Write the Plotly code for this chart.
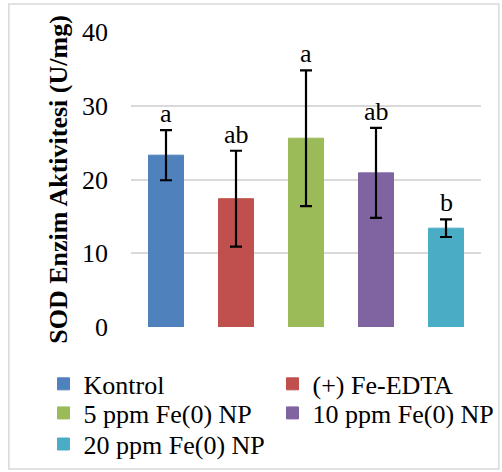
import plotly.graph_objects as go

categories = ["Kontrol", "(+) Fe-EDTA", "5 ppm Fe(0) NP", "10 ppm Fe(0) NP", "20 ppm Fe(0) NP"]
means = [23.3, 17.4, 25.6, 20.9, 13.4]
sds = [3.4, 6.5, 9.2, 6.1, 1.2]
letters = ["a", "ab", "a", "ab", "b"]
colors = ["#4F81BD", "#C0504D", "#9BBB59", "#8064A2", "#4BACC6"]
legend_ids = ["legend", "legend", "legend2", "legend2", "legend3"]
y_ticks = [0, 10, 20, 30, 40]

FONT = '"Liberation Serif", "Times New Roman", Times, serif'

fig = go.Figure()
for cat, m, s, c, lg in zip(categories, means, sds, colors, legend_ids):
    fig.add_trace(go.Bar(
        x=[cat], y=[m], name=cat,
        marker=dict(color=c, line=dict(color=c, width=1)),
        error_y=dict(type="data", array=[s], visible=True, color="black",
                     thickness=2.2, width=6),
        legend=lg,
    ))

for cat, m, s, t in zip(categories, means, sds, letters):
    fig.add_annotation(x=cat, y=m + s, text=t, showarrow=False,
                       yanchor="bottom", yshift=0,
                       font=dict(family=FONT, size=26, color="black"))

leg_common = dict(orientation="h", xanchor="left", yanchor="middle",
                  font=dict(family=FONT, size=26, color="black"),
                  bgcolor="rgba(0,0,0,0)", entrywidth=184, entrywidthmode="pixels",
                  itemclick=False, itemdoubleclick=False)

fig.update_layout(
    width=502, height=472,
    margin=dict(l=131, r=21, t=32, b=145, autoexpand=False),
    paper_bgcolor="white", plot_bgcolor="white",
    barmode="relative", bargap=0.5,
    showlegend=True,
    legend=dict(x=-0.25, y=-0.193, **leg_common),
    legend2=dict(x=-0.25, y=-0.2915, **leg_common),
    legend3=dict(x=-0.25, y=-0.397, **leg_common),
    xaxis=dict(showticklabels=False, showgrid=False, showline=False, ticks="",
               zeroline=False),
    yaxis=dict(range=[0, 40], tickvals=y_ticks, showgrid=True, gridcolor="#D9D9D9",
               gridwidth=1.5, zeroline=False, showline=False,
               ticklabelstandoff=22,
               tickfont=dict(family=FONT, size=26, color="black"),
               title=dict(text="<b>SOD Enzim Aktivitesi (U/mg)</b>", standoff=6,
                          font=dict(family=FONT, size=26, color="black"))),
    shapes=[dict(type="rect", xref="paper", yref="paper",
                 x0=-0.349, x1=1.051, y0=-0.481, y1=1.095,
                 line=dict(color="#D9D9D9", width=1.5), layer="below")],
)

fig.write_html("out.html", config={"displayModeBar": False},
               post_script="document.body.style.margin='0';document.body.style.padding='0';")
